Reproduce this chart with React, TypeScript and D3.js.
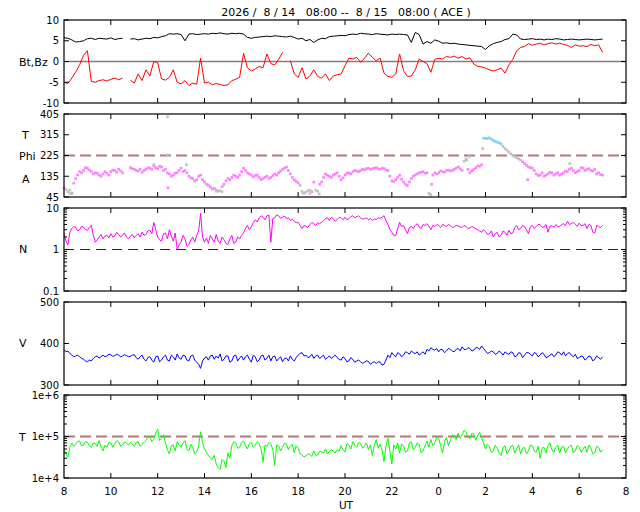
import React from 'react';
import * as d3 from 'd3';

// ---------------- data (10-minute samples starting 2026-08-14 08:00 UT) ----------------
const TITLE = '2026 /  8 / 14   08:00 --  8 / 15   08:00 ( ACE )';
const SAMPLE_MINUTES = 10;
const xTickHours = [0, 2, 4, 6, 8, 10, 12, 14, 16, 18, 20, 22, 24];
const xTickLabels = ['8', '10', '12', '14', '16', '18', '20', '22', '0', '2', '4', '6', '8'];

const bt: (number | null)[] = [
  5.7, 5.6, 5.2, 4.7, 4.8, 5.0, 5.5, 5.6, 5.3, 5.6,
  5.5, 5.4, 5.7, 5.3, 5.5, 5.6, null, 5.4, 5.5, 5.2,
  5.4, 5.6, 5.5, 5.8, 5.7, 6.0, 6.2, 6.7, 6.6, 6.7,
  6.5, 5.0, 6.6, 6.7, 6.5, 6.6, 6.7, 6.6, 6.8, 6.7,
  6.9, 6.7, 6.6, 6.8, 6.7, 6.8, 6.6, 5.8, 5.6, 5.8,
  5.9, 6.0, 6.1, 6.0, 6.2, 6.1, 6.0, 5.9, 6.1, 5.8,
  5.4, 5.6, 5.0, 5.3, 4.6, 5.2, 5.6, 5.5, 6.0, 6.1,
  6.2, 6.3, 6.2, 6.5, 6.6, 6.5, 6.8, 6.7, 6.6, 6.5,
  6.7, 6.6, 6.5, 6.4, 6.6, 6.5, 6.6, 6.5, 6.4, 4.6,
  7.0, 6.5, 4.2, 4.8, 4.4, 5.2, 4.9, 4.4, 4.5, 4.3,
  4.4, 4.2, 4.1, 4.0, 3.9, 3.8, 3.7, 3.6, 2.9, 3.8,
  4.3, 4.6, 4.8, 5.3, 5.5, 6.6, 6.4, 5.4, 5.3, 5.4,
  5.5, 5.3, 5.4, 5.2, 5.4, 5.3, 5.5, 5.4, 5.2, 5.3,
  5.4, 5.3, 5.2, 5.3, 5.4, 5.3, 5.2, 5.3, 5.4,
];

const bz: (number | null)[] = [
  -5.0, -5.3, -4.0, -2.5, -0.8, 1.5, 2.6, -4.8, -5.0, -4.6,
  -4.4, -4.7, -4.3, -4.0, -4.4, -4.0, null, -4.5, -5.2, -3.0,
  -4.6, -2.0, -3.5, 0.0, -0.3, -4.2, -4.5, -3.8, -2.0, -5.0,
  -5.4, -4.6, -5.8, -5.2, -5.5, 0.8, -5.2, -5.0, -5.6, -5.3,
  -5.5, -5.8, -5.6, -4.6, -4.3, -3.8, 2.0, -1.5, -2.3, -1.8,
  -1.2, -1.5, 1.8, -0.5, -0.8, 0.5, 2.2, null, 0.2, -3.0,
  -3.8, -1.5, -4.2, -3.5, -2.0, -3.6, -4.0, -3.0, -4.6, -3.5,
  -3.2, -3.0, -1.0, 0.8, 0.6, 1.0, -0.2, 0.8, 2.0, 1.0,
  0.2, 0.8, -2.8, -3.6, -3.8, -3.0, 1.8, -2.2, -3.6, -3.5,
  -2.0, 0.6, 0.0, -0.5, -2.6, 0.5, 0.8, 0.6, 1.2, 1.0,
  1.3, 0.8, 1.2, 0.6, 0.9, -0.6, -1.2, -1.3, -1.6, -2.0,
  -2.3, -2.0, -1.6, -2.8, -0.8, 0.5, 2.6, 3.4, 3.6, 4.3,
  3.9, 4.2, 4.4, 4.0, 4.3, 4.5, 4.2, 4.4, 4.1, 3.9,
  3.4, 4.0, 3.7, 3.8, 3.6, 4.1, 3.8, 4.0, 2.2,
];

// phi angle samples on the 10-minute grid, plus the samples half-way between them
const phi: (number | null)[] = [
  85, 68, 62, 125, 155, 160, 170, 155, 150, 140,
  145, 148, 155, 160, 165, 150, null, 172, 165, 158,
  152, 165, 170, 180, 168, 175, 165, 145, 140, 150,
  170, 160, 135, 125, 120, 140, 110, 95, 80, 75,
  72, 100, 125, 130, 135, 140, 170, 150, 140, 138,
  130, 125, 135, 130, 145, 150, 165, 175, 145, 120,
  105, 70, 65, 75, 110, 70, 110, 145, 135, 140,
  150, 120, 140, 150, 155, 158, 160, 163, 170, 168,
  172, 165, 168, 160, 115, 120, 140, 110, 95, 125,
  140, 150, 155, 150, 55, 150, 150, 155, 160, 158,
  165, 175, 160, 210, 150, 165, 180, 185, 300, 302,
  290, 283, 275, 255, 240, 225, 215, 205, 190, 175,
  170, 145, 140, 135, 145, 150, 145, 140, 150, 155,
  170, 150, 160, 170, 165, 160, 165, 150, 140,
];
const phiMid: (number | null)[] = [
  78, 60, 105, 140, 150, 172, 162, 145, 148, 135,
  155, 140, 162, 152, 158, null, null, 168, 160, 165,
  160, 172, 165, 172, 178, 160, 150, 135, 148, 160,
  155, 150, 128, 115, 135, 120, 100, 88, 82, 70,
  90, 115, 120, 140, 130, 155, 160, 145, 132, 140,
  120, 130, 125, 138, 140, 158, 170, 160, 130, 112,
  95, 62, 72, 68, 75, 100, 130, 140, 130, 145,
  135, 128, 148, 145, 160, 155, 165, 168, 165, 170,
  168, 170, 162, 135, 112, 130, 122, 100, 110, 135,
  145, 152, 148, 60, 140, 145, 158, 152, 162, 160,
  170, 168, 200, 165, 158, 172, 178, 300, 298, 296,
  286, 280, 265, 248, 232, 220, 210, 198, 182, 172,
  160, 138, 150, 140, 152, 140, 150, 145, 158, 165,
  160, 155, 172, 160, 168, 158, 145, 142,
];

// colour class of each 10-minute phi sample, as runs: p = pink, g = grey, b = blue
const phiClassRuns: [string, number][] = [
  ['p', 1], ['g', 2], ['p', 37], ['g', 1], ['p', 20], ['g', 3], ['p', 1], ['g', 1],
  ['p', 28], ['g', 1], ['p', 8], ['g', 1], ['p', 4], ['b', 5], ['g', 5], ['p', 21],
];

// isolated phi points: [hours since 08:00, degrees, class]
const phiExtra: [number, number, string][] = [
  [4.42, 393, 'g'], [4.42, 228, 'g'], [4.44, 85, 'p'], [3.84, 185, 'g'], [5.23, 185, 'g'],
  [0.25, 75, 'g'], [0.35, 60, 'g'], [6.5, 70, 'g'], [6.75, 68, 'g'], [10.9, 58, 'g'],
  [15.6, 60, 'g'], [15.7, 100, 'p'], [17.2, 205, 'g'], [17.3, 220, 'g'], [17.88, 255, 'g'],
  [19.8, 120, 'p'], [21.6, 190, 'g'], [10.2, 62, 'g'], [10.5, 60, 'g'],
];

const dens: number[] = [
  2.5, 1.3, 3.2, 3.4, 3.0, 3.5, 2.9, 3.8, 1.5, 2.0,
  1.8, 2.2, 2.4, 2.1, 2.3, 2.2, 2.0, 2.1, 1.9, 2.4,
  2.6, 2.3, 2.9, 4.5, 2.0, 1.6, 2.5, 3.0, 1.6, 1.0,
  1.5, 1.8, 1.3, 2.0, 2.2, 7.5, 1.5, 1.4, 1.8, 2.3,
  1.4, 1.7, 1.3, 2.2, 1.5, 1.8, 2.5, 3.8, 3.5, 5.2,
  5.8, 6.0, 6.5, 1.5, 5.8, 6.5, 6.0, 5.5, 5.0, 4.8,
  4.5, 3.2, 3.6, 4.0, 4.2, 4.4, 4.5, 5.5, 5.0, 5.5,
  5.3, 5.8, 6.0, 5.5, 6.5, 6.2, 5.8, 5.5, 5.2, 5.0,
  5.3, 5.6, 6.5, 4.0, 2.6, 2.2, 4.5, 3.8, 2.4, 3.6,
  3.8, 3.5, 4.0, 4.2, 3.0, 3.6, 3.8, 4.0, 3.6, 3.8,
  3.5, 3.7, 3.4, 3.6, 3.3, 3.4, 3.0, 2.6, 2.7, 2.4,
  2.0, 2.6, 2.2, 2.6, 2.9, 2.5, 3.8, 3.2, 3.6, 2.4,
  3.8, 3.6, 4.0, 3.5, 2.6, 3.8, 4.0, 3.6, 4.2, 4.8,
  4.2, 4.0, 4.3, 3.8, 3.2, 3.8, 2.5, 3.6, 3.8,
];
const densMid: number[] = [
  1.6, 2.6, 3.6, 2.8, 3.6, 3.0, 3.4, 2.2, 1.7, 2.3,
  2.1, 1.9, 2.0, 2.6, 2.0, 2.5, 1.8, 2.3, 2.2, 2.0,
  2.2, 2.8, 2.4, 3.0, 1.7, 2.4, 1.8, 2.1, 2.5, 1.3,
  2.2, 1.2, 1.7, 1.5, 2.8, 2.0, 1.9, 2.2, 1.5, 1.6,
  2.0, 1.4, 1.8, 1.4, 2.0, 2.2, 3.2, 3.0, 4.5, 4.6,
  6.5, 5.2, 6.8, 5.6, 6.8, 5.6, 6.4, 5.8, 5.4, 4.4,
  3.8, 3.8, 3.4, 4.5, 3.8, 4.2, 5.0, 5.8, 6.0, 4.8,
  6.0, 5.2, 5.2, 6.2, 5.8, 6.4, 5.4, 5.8, 5.6, 5.4,
  5.8, 6.0, 5.0, 3.0, 2.2, 3.2, 3.6, 3.0, 3.4, 3.2,
  4.2, 3.2, 3.8, 3.6, 3.8, 4.0, 3.4, 3.8, 4.0, 3.4,
  3.8, 3.5, 3.8, 3.2, 3.6, 3.2, 2.8, 3.0, 2.3, 2.8,
  2.4, 2.0, 2.8, 2.2, 2.4, 3.4, 3.0, 3.8, 3.0, 3.6,
  3.2, 4.0, 3.4, 4.0, 3.6, 3.4, 3.6, 4.0, 3.8, 4.0,
  4.5, 3.6, 3.8, 4.2, 4.0, 2.6, 3.8, 3.4,
];

const speed: number[] = [
  385, 382, 372, 370, 368, 362, 356, 358, 368, 365,
  372, 370, 373, 371, 372, 370, 371, 369, 373, 362,
  372, 358, 368, 355, 370, 360, 372, 358, 368, 375,
  362, 370, 358, 372, 355, 340, 365, 360, 372, 370,
  375, 362, 370, 358, 372, 365, 360, 372, 355, 368,
  360, 372, 365, 358, 370, 363, 356, 365, 370, 358,
  372, 378, 372, 368, 364, 372, 368, 362, 370, 368,
  366, 360, 364, 358, 362, 358, 356, 355, 357, 354,
  352, 355, 350, 372, 378, 368, 375, 372, 378, 382,
  376, 372, 380, 386, 390, 384, 380, 385, 382, 386,
  380, 388, 392, 385, 388, 384, 390, 394, 382, 378,
  380, 376, 378, 380, 374, 378, 370, 376, 372, 378,
  370, 376, 372, 374, 368, 375, 372, 378, 380, 376,
  372, 374, 366, 368, 364, 368, 362, 366, 368,
];
const speedMid: number[] = [
  380, 376, 368, 372, 364, 358, 360, 364, 370, 368,
  368, 374, 369, 374, 368, 373, 368, 372, 366, 368,
  362, 366, 360, 368, 356, 368, 360, 372, 360, 365,
  372, 360, 370, 360, 350, 358, 368, 370, 362, 365,
  358, 370, 355, 370, 358, 370, 368, 362, 372, 356,
  370, 360, 372, 368, 358, 368, 364, 358, 362, 366,
  376, 370, 366, 374, 370, 364, 372, 366, 364, 372,
  362, 368, 356, 366, 355, 360, 352, 358, 350, 356,
  356, 348, 360, 366, 372, 378, 368, 380, 374, 378,
  380, 376, 374, 382, 386, 388, 386, 378, 388, 382,
  386, 382, 386, 390, 382, 390, 386, 388, 376, 382,
  374, 382, 372, 376, 380, 368, 378, 366, 378, 374,
  378, 368, 378, 366, 372, 368, 380, 372, 370, 378,
  368, 364, 370, 360, 370, 358, 370, 362,
];

// temperature in thousands of kelvin
const tempK: number[] = [
  50, 32, 70, 65, 78, 62, 72, 55, 68, 80,
  45, 55, 70, 68, 75, 62, 70, 72, 58, 75,
  65, 80, 100, 85, 150, 90, 70, 38, 62, 75,
  55, 80, 45, 55, 42, 130, 50, 35, 28, 22,
  16, 25, 40, 60, 70, 55, 78, 50, 72, 62,
  68, 24, 58, 66, 20, 60, 55, 65, 58, 40,
  52, 36, 34, 37, 45, 36, 42, 50, 44, 45,
  48, 60, 42, 62, 75, 55, 68, 60, 48, 35,
  85, 65, 25, 90, 22, 50, 40, 60, 45, 75,
  55, 65, 45, 78, 85, 70, 90, 40, 95, 80,
  100, 120, 110, 130, 90, 115, 105, 95, 50, 58,
  45, 52, 35, 60, 45, 62, 50, 38, 55, 45,
  60, 42, 30, 55, 60, 48, 55, 40, 58, 50,
  62, 45, 55, 50, 42, 52, 40, 55, 48,
];
const tempKMid: number[] = [
  38, 55, 58, 76, 60, 75, 60, 70, 58, 55,
  62, 72, 55, 80, 58, 74, 62, 66, 72, 58,
  72, 95, 75, 120, 80, 110, 48, 60, 45, 62,
  70, 50, 65, 38, 60, 70, 42, 30, 35, 18,
  28, 18, 30, 75, 52, 72, 60, 68, 55, 75,
  50, 62, 72, 48, 62, 45, 70, 48, 65, 60,
  38, 32, 38, 33, 35, 44, 40, 38, 48, 40,
  44, 48, 68, 50, 62, 72, 52, 70, 62, 60,
  52, 48, 60, 45, 62, 70, 65, 42, 70, 48,
  70, 40, 60, 55, 60, 95, 60, 75, 60, 110,
  85, 90, 140, 95, 120, 80, 125, 70, 65, 40,
  62, 40, 55, 38, 58, 40, 62, 52, 38, 62,
  45, 58, 52, 40, 70, 42, 62, 55, 40, 58,
  40, 60, 42, 58, 62, 38, 58, 42,
];

const btBzTicks = [-10, -5, 0, 5, 10];
const angleTicks = [45, 135, 225, 315, 405];
const densTicks = [0.1, 1, 10];
const densTickLabels = ['0.1', '1', '10'];
const speedTicks = [300, 400, 500];
const tempTicks = [1e4, 1e5, 1e6];
const tempTickLabels = ['1e+4', '1e+5', '1e+6'];

// ---------------- layout ----------------
const X0 = 64;
const X1 = 626;
const PH = 83;
const FONT = 'DejaVu Sans, sans-serif';
const phiColors: Record<string, string> = { p: '#ff80ff', g: '#c0c0c0', b: '#7fcfff' };

type Panel = {
  top: number;
  y: any;
  majors: number[];
  labels: string[];
  log: boolean;
};

// merge a 10-minute series with its half-way samples -> 5-minute series
function interleave<T>(main: T[], mid: T[]): T[] {
  const out: T[] = [];
  main.forEach((v, i) => {
    out.push(v);
    if (i < mid.length) out.push(mid[i]);
  });
  return out;
}

export default function App() {
  const x = d3.scaleLinear().domain([0, 24]).range([X0, X1]);
  const hours = bt.map((_, i) => (i * SAMPLE_MINUTES) / 60);
  const hours5 = interleave(bt, phiMid).map((_, i) => (i * SAMPLE_MINUTES) / 120);

  const phiClass: string[] = [];
  phiClassRuns.forEach(([c, n]) => {
    for (let k = 0; k < n; k++) phiClass.push(c);
  });
  // class of each half-way sample follows the next 10-minute sample
  const phiClassMid = phiMid.map((_, i) => phiClass[i + 1]);

  const phi5 = interleave(phi, phiMid);
  const phiClass5 = interleave(phiClass, phiClassMid);
  const dens5 = interleave(dens, densMid);
  const speed5 = interleave(speed, speedMid);
  const temp5 = interleave(tempK, tempKMid).map((v) => v * 1000);

  const tops = [20, 114, 208, 302, 395];
  const lin = (d: [number, number], t: number) => d3.scaleLinear().domain(d).range([t + PH, t]);
  const lg = (d: [number, number], t: number) => d3.scaleLog().domain(d).range([t + PH, t]);

  const panels: Panel[] = [
    { top: tops[0], y: lin([-10, 10], tops[0]), majors: btBzTicks, labels: btBzTicks.map(String), log: false },
    { top: tops[1], y: lin([45, 405], tops[1]), majors: angleTicks, labels: angleTicks.map(String), log: false },
    { top: tops[2], y: lg([0.1, 10], tops[2]), majors: densTicks, labels: densTickLabels, log: true },
    { top: tops[3], y: lin([300, 500], tops[3]), majors: speedTicks, labels: speedTicks.map(String), log: false },
    { top: tops[4], y: lg([1e4, 1e6], tops[4]), majors: tempTicks, labels: tempTickLabels, log: true },
  ];

  const mkLine = (y: any, vals: (number | null)[], hrs: number[]) =>
    d3
      .line<number | null>()
      .defined((d) => d != null)
      .x((_, i) => x(hrs[i]))
      .y((d) => y(d as number))(vals) || '';

  const [pB, pA, pN, pV, pT] = panels;

  const frame = (p: Panel, idx: number) => {
    const t = p.top;
    const b = t + PH;
    const minors: number[] = p.log
      ? (p.y.ticks() as number[]).filter((v) => !p.majors.some((m) => Math.abs(m - v) / m < 1e-6))
      : [];
    return (
      <g key={'f' + idx}>
        {xTickHours.slice(1, -1).map((h) => (
          <g key={h}>
            <line x1={x(h)} x2={x(h)} y1={b} y2={b - 5} stroke="#000" />
            <line x1={x(h)} x2={x(h)} y1={t} y2={t + 5} stroke="#000" />
          </g>
        ))}
        {p.majors.map((v) => (
          <g key={'m' + v}>
            <line x1={X0} x2={X0 + 5} y1={p.y(v)} y2={p.y(v)} stroke="#000" />
            <line x1={X1} x2={X1 - 5} y1={p.y(v)} y2={p.y(v)} stroke="#000" />
          </g>
        ))}
        {minors.map((v) => (
          <g key={'n' + v}>
            <line x1={X0} x2={X0 + 3} y1={p.y(v)} y2={p.y(v)} stroke="#000" />
            <line x1={X1} x2={X1 - 3} y1={p.y(v)} y2={p.y(v)} stroke="#000" />
          </g>
        ))}
        {p.majors.map((v, i) => (
          <text key={'l' + v} x={59} y={p.y(v)} dy="0.36em" textAnchor="end" fontSize={10}>
            {p.labels[i]}
          </text>
        ))}
        <rect x={X0} y={t} width={X1 - X0} height={PH} fill="none" stroke="#000" strokeWidth={1.2} />
      </g>
    );
  };

  return (
    <svg
      width={640}
      height={512}
      style={{ position: 'absolute', left: 0, top: 0, background: '#fff' }}
      fontFamily={FONT}
    >
      <rect width={640} height={512} fill="#fff" />
      <text x={346} y={16} textAnchor="middle" fontSize={11} style={{ whiteSpace: 'pre' }}>
        {TITLE}
      </text>

      {/* Bt, Bz */}
      <line x1={X0} x2={X1} y1={pB.y(0)} y2={pB.y(0)} stroke="#808080" strokeWidth={1.6} />
      <path d={mkLine(pB.y, bt, hours)} fill="none" stroke="#000" strokeWidth={1} />
      <path d={mkLine(pB.y, bz, hours)} fill="none" stroke="#ff0000" strokeWidth={1} />

      {/* angle */}
      <line x1={X0} x2={X1} y1={pA.y(225)} y2={pA.y(225)} stroke="#b47878" strokeWidth={2} strokeDasharray="11 5" />
      {phi5.map((v, i) =>
        v == null ? null : (
          <rect key={'ph' + i} x={x(hours5[i]) - 1.3} y={pA.y(v) - 1.3} width={2.6} height={2.6} fill={phiColors[phiClass5[i]]} />
        )
      )}
      {phiExtra.map(([h, v, c], i) => (
        <rect key={'pe' + i} x={x(h) - 1.3} y={pA.y(v) - 1.3} width={2.6} height={2.6} fill={phiColors[c]} />
      ))}

      {/* density */}
      <line x1={X0} x2={X1} y1={pN.y(1)} y2={pN.y(1)} stroke="#800000" strokeWidth={1} strokeDasharray="10 6" />
      <path d={mkLine(pN.y, dens5, hours5)} fill="none" stroke="#ff00ff" strokeWidth={1} />

      {/* speed */}
      <path d={mkLine(pV.y, speed5, hours5)} fill="none" stroke="#0000ff" strokeWidth={1} />

      {/* temperature */}
      <line x1={X0} x2={X1} y1={pT.y(1e5)} y2={pT.y(1e5)} stroke="#b47878" strokeWidth={2} strokeDasharray="11 5" />
      <path d={mkLine(pT.y, temp5, hours5)} fill="none" stroke="#00ff00" strokeWidth={1} />

      {panels.map((p, i) => frame(p, i))}

      {/* panel labels */}
      <g fontSize={11}>
        <text x={19} y={66}>Bt,Bz</text>
        <text x={22} y={139}>T</text>
        <text x={19} y={160}>Phi</text>
        <text x={22} y={183}>A</text>
        <text x={19} y={253}>N</text>
        <text x={19} y={347}>V</text>
        <text x={19} y={441}>T</text>
      </g>

      {xTickHours.map((h, i) => (
        <text key={'x' + h} x={x(h)} y={495} textAnchor="middle" fontSize={10.5}>
          {xTickLabels[i]}
        </text>
      ))}
      <text x={346} y={509} textAnchor="middle" fontSize={10.5}>
        UT
      </text>
    </svg>
  );
}
